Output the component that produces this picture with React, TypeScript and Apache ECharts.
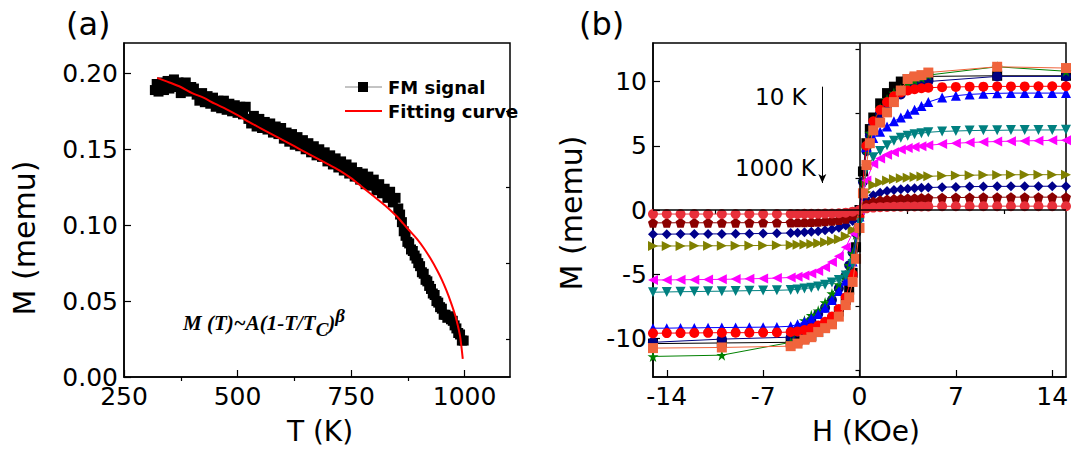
import React, { useEffect, useRef } from "react";
import * as echarts from "echarts";

// ---------- Panel (a): M vs T ----------
const T_DATA = [318,322,326,330,334,338,342,346,350,355,360,365,370,375,380,386,392,398,404,410,416,422,428,434,440,446,452,458,464,470,476,482,488,494,500,506,512,518,524,530,536,542,548,554,560,566,572,578,584,590,596,602,608,614,620,626,632,638,644,650,656,662,668,674,680,686,692,698,704,710,716,722,728,734,740,746,752,758,764,770,776,782,788,794,800,806,812,818,824,830,836,842,848,854,858,862,866,870,874,878,882,886,890,894,898,902,906,910,914,918,922,926,930,934,938,942,946,950,954,958,962,966,970,974,978,982,986,990,994,998];
const M_DATA = [0.189,0.193,0.188,0.191,0.194,0.189,0.192,0.195,0.190,0.193,0.196,0.191,0.194,0.187,0.191,0.194,0.188,0.191,0.190,0.186,0.182,0.187,0.181,0.185,0.180,0.184,0.178,0.182,0.177,0.182,0.176,0.180,0.175,0.179,0.174,0.178,0.173,0.178,0.170,0.167,0.172,0.165,0.170,0.164,0.168,0.163,0.167,0.161,0.165,0.160,0.164,0.157,0.161,0.155,0.160,0.153,0.158,0.152,0.156,0.150,0.154,0.148,0.152,0.146,0.150,0.145,0.148,0.142,0.146,0.140,0.144,0.138,0.142,0.136,0.140,0.134,0.138,0.132,0.135,0.130,0.134,0.127,0.132,0.126,0.130,0.123,0.127,0.121,0.124,0.118,0.122,0.115,0.118,0.111,0.107,0.102,0.096,0.093,0.089,0.088,0.084,0.083,0.080,0.078,0.075,0.073,0.069,0.068,0.064,0.063,0.060,0.058,0.055,0.054,0.050,0.049,0.046,0.045,0.041,0.041,0.039,0.040,0.038,0.037,0.034,0.032,0.029,0.028,0.024,0.024];
const FIT_T = [323,350,375,400,425,450,475,500,525,550,575,600,625,650,675,700,725,750,775,800,825,850,865,880,895,910,925,940,950,960,970,980,985,990,993,996];
const FIT_M = [0.197,0.194,0.191,0.187,0.184,0.180,0.1765,0.1725,0.168,0.164,0.160,0.156,0.152,0.148,0.144,0.140,0.136,0.131,0.125,0.119,0.113,0.106,0.101,0.096,0.091,0.085,0.078,0.070,0.064,0.057,0.049,0.040,0.034,0.027,0.020,0.012];
const T_TICKS = [250, 500, 750, 1000];
const T_MINOR = [375, 625, 875];
const MA_TICKS = [0, 0.05, 0.1, 0.15, 0.2];
const MA_MINOR = [0.025, 0.075, 0.125, 0.175];

// ---------- Panel (b): M vs H ----------
const H_FINE = [-15,-14,-13,-12,-11,-10,-9,-8,-7,-6,-5,-4.5,-4,-3.5,-3,-2.5,-2,-1.5,-1,-0.5,0,0.5,1,1.5,2,2.5,3,3.5,4,4.5,5,6,7,8,9,10,11,12,13,14,15];
const H_COARSE = [-15,-10,-5,-4.5,-4,-3.5,-3,-2.5,-2,-1.5,-1,-0.75,-0.5,-0.25,0,0.25,0.5,0.75,1,1.5,2,2.5,3,3.5,4,4.5,5,10,15];

const M_BLACK = [-10.4,-10.35,-10.3,-10.15,-10.0,-9.8,-9.5,-9.1,-8.6,-7.9,-7.0,-6.2,-4.9,-2.9,0,3.0,5.2,6.3,7.2,8.3,9.1,9.6,10.0,10.2,10.3,10.35,10.4,10.45,10.45];
const M_NAVY_CIRCLE = [-10.3,-10.05,-9.9,-9.5,-9.1,-8.6,-8.1,-7.6,-7.0,-6.1,-5.1,-4.3,-3.3,-1.8,0,2.2,4.6,5.8,6.7,7.5,8.1,8.6,9.0,9.35,9.6,9.8,10.0,10.4,10.4];
const M_GREEN = [-11.4,-11.3,-10.3,-9.4,-8.6,-8.2,-7.85,-7.2,-6.5,-5.8,-5.1,-4.3,-3.4,-1.9,0,2.2,4.7,6.0,6.9,7.9,8.6,9.1,9.4,9.8,10.1,10.3,10.5,11.15,10.8];
const M_TOMATO = [-10.75,-10.7,-10.6,-10.4,-10.1,-9.9,-9.5,-9.2,-8.9,-8.3,-7.4,-6.8,-5.6,-3.8,-1.4,1.3,3.5,5.2,6.2,6.8,7.6,8.4,9.3,10.2,10.4,10.5,10.7,11.15,11.05];
const M_RED = [-9.6,-9.58,-9.58,-9.57,-9.56,-9.55,-9.55,-9.55,-9.54,-9.53,-9.5,-9.45,-9.35,-9.2,-9.0,-8.7,-8.3,-7.7,-6.8,-5.0,-0.5,5.0,6.9,7.8,8.4,8.85,9.15,9.3,9.4,9.48,9.52,9.56,9.58,9.6,9.6,9.62,9.62,9.62,9.63,9.63,9.63];
const M_BLUE = [-9.2,-9.2,-9.18,-9.18,-9.16,-9.15,-9.14,-9.13,-9.12,-9.1,-9.05,-8.9,-8.7,-8.45,-8.1,-7.6,-7.0,-6.3,-5.5,-4.0,-0.5,4.9,5.6,6.1,6.5,6.9,7.2,7.5,7.8,8.1,8.4,8.75,8.9,9.0,9.05,9.08,9.1,9.1,9.1,9.1,9.1];
const M_TEAL = [-6.4,-6.38,-6.36,-6.35,-6.33,-6.32,-6.3,-6.28,-6.27,-6.25,-6.22,-6.18,-6.12,-6.05,-5.95,-5.82,-5.65,-5.45,-5.1,-4.2,-1.0,3.2,4.1,4.6,5.05,5.4,5.62,5.78,5.9,5.98,6.05,6.12,6.15,6.18,6.2,6.2,6.22,6.22,6.23,6.23,6.24];
const M_MAGENTA = [-5.45,-5.44,-5.43,-5.42,-5.41,-5.4,-5.38,-5.36,-5.33,-5.3,-5.25,-5.2,-5.1,-4.95,-4.75,-4.45,-4.05,-3.6,-2.9,-1.8,0.0,2.3,3.6,4.0,4.3,4.5,4.7,4.82,4.9,4.97,5.04,5.13,5.2,5.25,5.3,5.33,5.36,5.38,5.4,5.42,5.43];
const M_OLIVE = [-2.8,-2.8,-2.8,-2.79,-2.79,-2.78,-2.78,-2.77,-2.76,-2.75,-2.73,-2.71,-2.68,-2.64,-2.59,-2.52,-2.42,-2.28,-2.05,-1.55,-0.2,1.4,1.95,2.15,2.3,2.4,2.47,2.52,2.56,2.6,2.62,2.66,2.69,2.71,2.72,2.73,2.74,2.75,2.75,2.75,2.75];
const M_NAVY_DIAMOND = [-1.88,-1.88,-1.87,-1.87,-1.86,-1.86,-1.85,-1.84,-1.83,-1.81,-1.79,-1.77,-1.74,-1.7,-1.65,-1.58,-1.5,-1.38,-1.2,-0.85,-0.1,0.8,1.15,1.35,1.47,1.55,1.61,1.66,1.7,1.73,1.75,1.78,1.8,1.82,1.83,1.84,1.84,1.85,1.85,1.85,1.85];
const M_MAROON = [-1.0,-1.0,-0.99,-1.0,-0.99,-1.0,-0.99,-0.99,-0.98,-0.98,-0.97,-0.96,-0.95,-0.93,-0.91,-0.88,-0.84,-0.78,-0.68,-0.45,0.0,0.45,0.65,0.75,0.81,0.85,0.88,0.9,0.92,0.93,0.94,0.96,0.97,0.98,0.99,0.99,1.0,1.0,1.0,1.0,1.0];
const M_CRIMSON = [-0.32,-0.31,-0.32,-0.31,-0.32,-0.31,-0.32,-0.31,-0.32,-0.31,-0.31,-0.31,-0.30,-0.30,-0.29,-0.28,-0.27,-0.25,-0.21,-0.13,0.0,0.13,0.19,0.22,0.24,0.25,0.26,0.27,0.27,0.28,0.28,0.29,0.29,0.30,0.30,0.30,0.30,0.30,0.30,0.30,0.30];

const H_TICKS = [-14, -7, 0, 7, 14];
const H_MINOR = [-10.5, -3.5, 3.5, 10.5];
const MB_TICKS = [-10, -5, 0, 5, 10];
const MB_MINOR = [-12.5, -7.5, -2.5, 2.5, 7.5, 12.5];

const ARROW_H = -2.7;
const ARROW_TOP = 9.6;
const ARROW_BOTTOM = 2.1;

const STAR = "path://M50,0 L61,35 L98,35 L68,57 L79,91 L50,70 L21,91 L32,57 L2,35 L39,35 Z";
const PENTAGON = "path://M50,0 L100,38 L81,100 L19,100 L0,38 Z";

const FONT = "DejaVu Sans";

function pairs(xs: number[], ys: number[]) {
  return xs.map((x, i) => [x, ys[i]]);
}

export default function App() {
  const ref = useRef<HTMLDivElement>(null);

  useEffect(() => {
    const chart = echarts.init(ref.current!, null, { renderer: "svg" });

    const mainX = (min: number, max: number, gridIndex: number, ticks: number[]) => ({
      type: "value", gridIndex, min, max,
      axisLine: { show: true, onZero: false, lineStyle: { color: "#000", width: 1.5 } },
      axisTick: { show: true, inside: true, length: 7, customValues: ticks, lineStyle: { color: "#000", width: 1.2 } },
      axisLabel: { show: true, customValues: ticks, color: "#000", fontSize: 25, fontFamily: FONT, margin: 7, formatter: (v: number) => String(v) },
      splitLine: { show: false },
    });
    const minorX = (min: number, max: number, gridIndex: number, ticks: number[]) => ({
      type: "value", gridIndex, min, max,
      axisLine: { show: false },
      axisTick: { show: true, inside: true, length: 4, customValues: ticks, lineStyle: { color: "#000", width: 1.2 } },
      axisLabel: { show: false },
      splitLine: { show: false },
    });
    const mainY = (min: number, max: number, gridIndex: number, ticks: number[], fmt: (v: number) => string) => ({
      type: "value", gridIndex, min, max,
      axisLine: { show: true, onZero: false, lineStyle: { color: "#000", width: 1.5 } },
      axisTick: { show: true, inside: true, length: 7, customValues: ticks, lineStyle: { color: "#000", width: 1.2 } },
      axisLabel: { show: true, customValues: ticks, color: "#000", fontSize: 25, fontFamily: FONT, margin: 6, formatter: fmt },
      splitLine: { show: false },
    });
    const minorY = (min: number, max: number, gridIndex: number, ticks: number[]) => ({
      type: "value", gridIndex, min, max,
      axisLine: { show: false },
      axisTick: { show: true, inside: true, length: 4, customValues: ticks, lineStyle: { color: "#000", width: 1.2 } },
      axisLabel: { show: false },
      splitLine: { show: false },
    });

    const loops = [
      { name: "10 K", color: "#000000", symbol: "rect", rot: 0, h: H_COARSE, m: M_BLACK },
      { name: "loop 2", color: "#000080", symbol: "circle", rot: 0, h: H_COARSE, m: M_NAVY_CIRCLE },
      { name: "loop 3", color: "#008000", symbol: STAR, rot: 0, h: H_COARSE, m: M_GREEN },
      { name: "loop 4", color: "#0000ff", symbol: "triangle", rot: 0, h: H_FINE, m: M_BLUE },
      { name: "loop 5", color: "#ff0000", symbol: "circle", rot: 0, h: H_FINE, m: M_RED },
      { name: "loop 6", color: "#008080", symbol: "triangle", rot: 180, h: H_FINE, m: M_TEAL },
      { name: "loop 7", color: "#ff00ff", symbol: "triangle", rot: 90, h: H_FINE, m: M_MAGENTA },
      { name: "loop 8", color: "#808000", symbol: "triangle", rot: -90, h: H_FINE, m: M_OLIVE },
      { name: "loop 9", color: "#00008b", symbol: "diamond", rot: 0, h: H_FINE, m: M_NAVY_DIAMOND },
      { name: "loop 10", color: "#8b0000", symbol: PENTAGON, rot: 0, h: H_FINE, m: M_MAROON },
      { name: "1000 K", color: "#e8303a", symbol: "circle", rot: 0, h: H_FINE, m: M_CRIMSON },
      { name: "loop 12", color: "#f0643c", symbol: "rect", rot: 0, h: H_COARSE, m: M_TOMATO },
    ];

    const loopSeries: any[] = loops.map((l, i) => ({
      name: l.name,
      type: "line",
      xAxisIndex: 2,
      yAxisIndex: 2,
      data: pairs(l.h, l.m),
      symbol: l.symbol,
      symbolRotate: l.rot,
      symbolSize: l.symbol === STAR ? 11 : 10,
      showSymbol: true,
      itemStyle: { color: l.color },
      lineStyle: { color: l.color, width: 1 },
      z: 3 + i * 0.01,
    }));

    loopSeries[0].markLine = {
      silent: true,
      symbol: "none",
      label: { show: false },
      lineStyle: { color: "#000", width: 1.5, type: "solid" },
      data: [{ xAxis: 0 }, { yAxis: 0 }],
    };
    loopSeries[1].markLine = {
      silent: true,
      symbol: ["none", "arrow"],
      symbolSize: [6, 9],
      label: { show: false },
      lineStyle: { color: "#000", width: 1, type: "solid" },
      data: [[{ coord: [ARROW_H, ARROW_TOP] }, { coord: [ARROW_H, ARROW_BOTTOM] }]],
    };

    const legendText = { fontSize: 18, fontWeight: "bold", fontFamily: FONT, fill: "#000", verticalAlign: "middle" };

    const option: any = {
      animation: false,
      backgroundColor: "#fff",
      textStyle: { fontFamily: FONT },
      grid: [
        { left: 124, top: 43, width: 386, height: 334, show: true, borderColor: "#000", borderWidth: 1.5 },
        { left: 653, top: 43, width: 413, height: 334, show: true, borderColor: "#000", borderWidth: 1.5 },
      ],
      xAxis: [
        mainX(250, 1100, 0, T_TICKS),
        minorX(250, 1100, 0, T_MINOR),
        mainX(-15, 15, 1, H_TICKS),
        minorX(-15, 15, 1, H_MINOR),
      ],
      yAxis: [
        mainY(0, 0.22, 0, MA_TICKS, (v: number) => v.toFixed(2)),
        minorY(0, 0.22, 0, MA_MINOR),
        mainY(-13, 13, 1, MB_TICKS, (v: number) => String(v)),
        minorY(-13, 13, 1, MB_MINOR),
      ],
      series: [
        {
          name: "FM signal",
          type: "line",
          xAxisIndex: 0,
          yAxisIndex: 0,
          data: pairs(T_DATA, M_DATA),
          symbol: "rect",
          symbolSize: 10,
          itemStyle: { color: "#000" },
          lineStyle: { color: "#888", width: 1 },
          z: 2,
        },
        {
          name: "Fitting curve",
          type: "line",
          xAxisIndex: 0,
          yAxisIndex: 0,
          data: pairs(FIT_T, FIT_M),
          showSymbol: false,
          symbol: "none",
          smooth: 0.3,
          itemStyle: { color: "#ff0000" },
          lineStyle: { color: "#ff0000", width: 2 },
          z: 4,
        },
        ...loopSeries,
      ],
      graphic: [
        { type: "text", left: 66, top: 8, style: { text: "(a)", fontSize: 32, fontFamily: FONT, fill: "#000" } },
        { type: "text", left: 579, top: 8, style: { text: "(b)", fontSize: 32, fontFamily: FONT, fill: "#000" } },
        { type: "text", x: 320, y: 431, style: { text: "T (K)", fontSize: 28, fontFamily: FONT, fill: "#000", align: "center", verticalAlign: "middle" } },
        { type: "text", x: 866, y: 431, style: { text: "H (KOe)", fontSize: 28, fontFamily: FONT, fill: "#000", align: "center", verticalAlign: "middle" } },
        { type: "text", x: 24, y: 238, rotation: Math.PI / 2, style: { text: "M (memu)", fontSize: 30, fontFamily: FONT, fill: "#000", align: "center", verticalAlign: "middle" } },
        { type: "text", x: 571, y: 213, rotation: Math.PI / 2, style: { text: "M (memu)", fontSize: 30, fontFamily: FONT, fill: "#000", align: "center", verticalAlign: "middle" } },
        { type: "text", x: 755, y: 97, style: { text: "10 K", fontSize: 23, fontFamily: FONT, fill: "#000", verticalAlign: "middle" } },
        { type: "text", x: 735, y: 168, style: { text: "1000 K", fontSize: 23, fontFamily: FONT, fill: "#000", verticalAlign: "middle" } },
        // legend
        { type: "line", shape: { x1: 345, y1: 87, x2: 382, y2: 87 }, style: { stroke: "#888", lineWidth: 1 } },
        { type: "rect", shape: { x: 358, y: 82, width: 10, height: 10 }, style: { fill: "#000" } },
        { type: "text", x: 388, y: 87, style: { text: "FM signal", ...legendText } },
        { type: "line", shape: { x1: 345, y1: 111, x2: 382, y2: 111 }, style: { stroke: "#ff0000", lineWidth: 2 } },
        { type: "text", x: 388, y: 111, style: { text: "Fitting curve", ...legendText } },
        {
          type: "text",
          x: 183,
          y: 323,
          style: {
            text: "{m|M (T)~A(1-T/T}{s|C}{m|)}{u|β}",
            verticalAlign: "middle",
            fill: "#000",
            rich: {
              m: { fontSize: 21, fontFamily: "Liberation Serif", fontStyle: "italic", fontWeight: "bold", verticalAlign: "middle" },
              s: { fontSize: 19, fontFamily: "Liberation Serif", fontStyle: "italic", fontWeight: "bold", padding: [12, 0, 0, 0], verticalAlign: "middle" },
              u: { fontSize: 19, fontFamily: "Liberation Serif", fontStyle: "italic", fontWeight: "bold", padding: [0, 0, 16, 0], verticalAlign: "middle" },
            },
          },
        },
      ],
    };

    chart.setOption(option);
    return () => chart.dispose();
  }, []);

  return (
    <div
      ref={ref}
      style={{ position: "absolute", left: 0, top: 0, width: 1072, height: 449, background: "#fff" }}
    />
  );
}
